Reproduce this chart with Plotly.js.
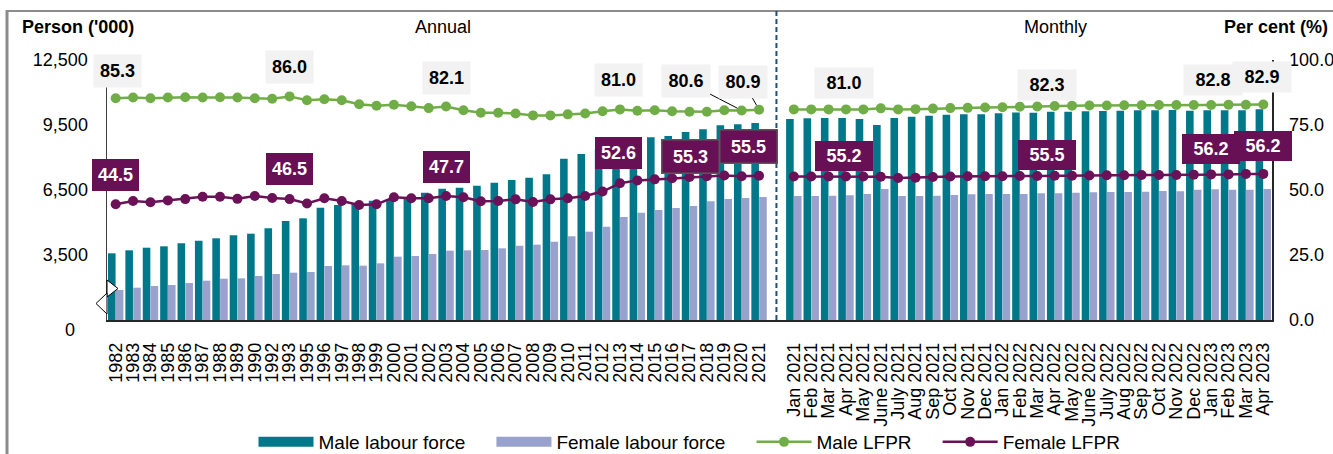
<!DOCTYPE html>
<html><head><meta charset="utf-8">
<script src="https://cdn.plot.ly/plotly-3.0.1.min.js"></script>
<style>html,body{margin:0;padding:0;background:#fff}#chart{width:1333px;height:454px}</style>
</head><body><div id="chart"></div>
<script>
// ---- Data ----
const annualYears = ["1982","1983","1984","1985","1986","1987","1988","1989","1990","1992","1993",
  "1995","1996","1997","1998","1999","2000","2001","2002","2003","2004","2005","2006","2007","2008",
  "2009","2010","2011","2012","2013","2014","2015","2016","2017","2018","2019","2020","2021"];
const annualMaleLF = [3578,3716,3837,3901,4040,4160,4270,4409,4483,4732,5069,
  5193,5683,5807,5900,6000,6050,6150,6375,6560,6606,6698,6837,6961,7068,
  7222,7944,8161,8392,8600,8790,8931,8992,9177,9300,9485,9531,9592];
const annualFemaleLF = [1885,1992,2069,2115,2208,2315,2407,2422,2531,2623,2684,
  2715,2992,3023,3008,3115,3423,3454,3546,3700,3715,3731,3808,3931,3977,
  4115,4362,4577,4808,5254,5454,5577,5669,5761,5977,6084,6131,6177];
const annualMaleLFPR = [85.3,85.6,85.3,85.6,85.7,85.6,85.7,85.6,85.3,85.1,86.0,
  84.5,84.9,84.5,83.0,82.4,82.8,82.2,81.5,82.1,80.7,79.7,79.7,79.4,78.7,
  78.7,79.1,79.4,80.3,81.0,80.5,80.7,80.3,80.1,80.1,80.7,80.6,80.9];
const annualFemaleLFPR = [44.5,45.8,45.3,46.0,46.5,47.4,47.4,46.6,47.7,46.9,46.5,
  44.8,46.8,45.8,44.2,44.5,47.2,46.8,46.8,47.7,47.2,45.7,45.8,46.4,45.4,
  46.4,46.8,47.7,49.4,52.6,53.7,54.1,54.5,55.0,55.3,55.6,55.3,55.5];

const months = ["Jan 2021","Feb 2021","Mar 2021","Apr 2021","May 2021","June 2021","July 2021","Aug 2021",
  "Sep 2021","Oct 2021","Nov 2021","Dec 2021","Jan 2022","Feb 2022","Mar 2022","Apr 2022","May 2022",
  "June 2022","July 2022","Aug 2022","Sep 2022","Oct 2022","Nov 2022","Dec 2022","Jan 2023","Feb 2023",
  "Mar 2023","Apr 2023"];
const monthlyMaleLF = [9777,9808,9823,9823,9777,9500,9823,9884,9930,9977,9992,9992,10038,10080,
  10069,10115,10115,10131,10146,10162,10177,10177,10192,10162,10177,10177,10177,10223];
const monthlyFemaleLF = [6223,6223,6238,6254,6315,6546,6223,6223,6238,6269,6300,6315,6315,6315,
  6346,6346,6377,6392,6408,6408,6423,6454,6438,6515,6531,6515,6515,6546];
const monthlyMaleLFPR = [81.0,81.0,81.0,81.0,81.0,81.4,81.0,81.1,81.3,81.5,81.6,81.7,81.8,82.0,
  82.1,82.3,82.4,82.5,82.5,82.6,82.6,82.7,82.7,82.7,82.7,82.8,82.8,82.9];
const monthlyFemaleLFPR = [55.2,55.2,55.2,55.2,55.2,55.1,54.6,54.7,55.0,55.2,55.3,55.3,55.3,55.4,
  55.4,55.5,55.5,55.6,55.7,55.7,55.8,55.8,55.8,55.9,56.0,56.0,56.2,56.2];

const leftTicks = [3500,6500,9500,12500];
const rightTicks = [0,25,50,75,100];

// labelled points: [category, dx, dy, style]
const maleLabels = [["1982",2,27,"a"],["1993",0,29,"a"],["2003",0,29,"a"],["2013",-1,29,"a"],
  ["Apr 2021",-2,26,"m"],["Apr 2022",-8,21,"m"],["Mar 2023",-33,25,"m"],["Apr 2023",-1,27,"m"]];
const maleArrowLabels = [["2020",-56,-29],["2021",-16,-28]];
const femaleLabels = [["1982",0,29,"a"],["1993",0,30,"a"],["2003",0,29,"a"],["2013",-1,30,"a"],
  ["2020",-51,20,"b"],["2021",-11,29,"b"],
  ["Apr 2021",-2,20,"m"],["Apr 2022",-8,21,"m"],["Mar 2023",-35,25,"m"],["Apr 2023",0,28,"m"]];

// ---- Build ----
const GAP = " ";
const cats = annualYears.concat([GAP], months);
const maleLF = annualMaleLF.concat([null], monthlyMaleLF);
const femaleLF = annualFemaleLF.concat([null], monthlyFemaleLF);
const maleLFPR = annualMaleLFPR.concat([null], monthlyMaleLFPR);
const femaleLFPR = annualFemaleLFPR.concat([null], monthlyFemaleLFPR);

const TEAL = "#00788A", LAV = "#98A2CC", GREEN = "#70AD47", PURPLE = "#6A1158";
const FONT = "Liberation Sans, Arial, sans-serif";
const SP = "\u00a0\u00a0\u00a0\u00a0";

const traces = [
  {type:"scatter", mode:"lines", x:[null], y:[null], name:"Male labour force"+SP, line:{color:TEAL, width:10}, hoverinfo:"skip"},
  {type:"scatter", mode:"lines", x:[null], y:[null], name:"Female labour force"+SP, line:{color:LAV, width:10}, hoverinfo:"skip"},
  {type:"bar", x:cats, y:maleLF, name:"Male labour force", marker:{color:TEAL}, showlegend:false, hoverinfo:"skip"},
  {type:"bar", x:cats, y:femaleLF, name:"Female labour force", marker:{color:LAV}, showlegend:false, hoverinfo:"skip"},
  {type:"scatter", mode:"lines+markers", x:cats, y:maleLFPR, yaxis:"y2", name:"Male LFPR"+SP,
    line:{color:GREEN, width:2.5}, marker:{color:GREEN, size:10}, connectgaps:false, hoverinfo:"skip"},
  {type:"scatter", mode:"lines+markers", x:cats, y:femaleLFPR, yaxis:"y2", name:"Female LFPR",
    line:{color:PURPLE, width:2.5}, marker:{color:PURPLE, size:10}, connectgaps:false, hoverinfo:"skip"}
];

const idx = c => cats.indexOf(c);
const valOf = (arr, c) => arr[idx(c)];

const annotations = [];
maleLabels.forEach(([c,dx,dy,s]) => {
  const m = s === "m";
  annotations.push({x:idx(c), y:valOf(maleLFPR,c), xref:"x", yref:"y2", text:"<b>"+valOf(maleLFPR,c).toFixed(1)+"</b>",
    showarrow:false, xshift:dx, yshift:dy, bgcolor:"#F2F2F2", width:m?52:41, height:m?24:26, borderpad:3,
    font:{family:FONT, size:18, color:"#000"}});
});
maleArrowLabels.forEach(([c,ax,ay]) => {
  annotations.push({x:idx(c), y:valOf(maleLFPR,c), xref:"x", yref:"y2", text:"<b>"+valOf(maleLFPR,c).toFixed(1)+"</b>",
    showarrow:true, ax:ax, ay:ay, arrowhead:0, arrowwidth:1, arrowcolor:"#000", standoff:5,
    bgcolor:"#F2F2F2", width:42, height:26, borderpad:3, font:{family:FONT, size:18, color:"#000"}});
});
femaleLabels.forEach(([c,dx,dy,s]) => {
  const m = s === "m", b = s === "b";
  annotations.push({x:idx(c), y:valOf(femaleLFPR,c), xref:"x", yref:"y2", text:"<b>"+valOf(femaleLFPR,c).toFixed(1)+"</b>",
    showarrow:false, xshift:dx, yshift:dy, bgcolor:"#681056", width:m?52:(b?50:41), height:m?24:26, borderpad:3,
    bordercolor: b ? "#595959" : "rgba(0,0,0,0)", borderwidth: b ? 1.5 : 0,
    font:{family:FONT, size:18, color:"#fff"}});
});
// axis / section titles
const px = v => (v - 107) / 1165, py = v => (320 - v) / 260;
annotations.push(
  {xref:"paper", yref:"paper", x:px(20), y:py(27), xanchor:"left", yanchor:"middle", showarrow:false,
    text:"<b>Person ('000)</b>", font:{family:FONT, size:18, color:"#000"}},
  {xref:"paper", yref:"paper", x:px(443), y:py(27), xanchor:"center", yanchor:"middle", showarrow:false,
    text:"Annual", font:{family:FONT, size:18, color:"#000"}},
  {xref:"paper", yref:"paper", x:px(1055), y:py(27), xanchor:"center", yanchor:"middle", showarrow:false,
    text:"Monthly", font:{family:FONT, size:18, color:"#000"}},
  {xref:"paper", yref:"paper", x:px(1330), y:py(27), xanchor:"right", yanchor:"middle", showarrow:false,
    text:"<b>Per cent (%)</b>", font:{family:FONT, size:18, color:"#000"}},
  {xref:"paper", yref:"paper", x:px(70), y:py(330), xanchor:"center", yanchor:"middle", showarrow:false,
    text:"0", font:{family:FONT, size:18, color:"#000"}}
);

const shapes = [
  {type:"line", xref:"paper", yref:"paper", x0:px(7), x1:px(1334), y0:py(11), y1:py(11), line:{color:"#8C8C8C", width:2}},
  {type:"line", xref:"paper", yref:"paper", x0:px(7), x1:px(7), y0:py(10), y1:py(456), line:{color:"#8C8C8C", width:3}},
  {type:"line", xref:"x", yref:"paper", x0:annualYears.length, x1:annualYears.length, y0:0, y1:py(11),
    line:{color:"#1F4E79", width:2, dash:"5px,3px"}},
  {type:"path", xref:"paper", yref:"paper", layer:"above",
    path:`M0,${py(280)} L${px(118)},${py(288.5)} L0,${py(297)} Z`, fillcolor:"#fff", line:{color:"#000", width:1}},
  {type:"path", xref:"paper", yref:"paper", layer:"above",
    path:`M0,${py(293)} L${px(96)},${py(303.5)} L0,${py(314)} Z`, fillcolor:"#fff", line:{color:"#000", width:1}}
];

const layout = {
  width:1333, height:454,
  margin:{l:107, r:61, t:60, b:134, pad:0, autoexpand:false},
  paper_bgcolor:"#fff", plot_bgcolor:"#fff",
  font:{family:FONT, size:17, color:"#000"},
  barmode:"group", bargap:0.1, bargroupgap:0.03,
  showlegend:true,
  legend:{orientation:"h", x:0.5, xanchor:"center", xref:"paper", yref:"container", y:(454-442)/454, yanchor:"middle",
    font:{family:FONT, size:19, color:"#000"}, itemwidth:55, traceorder:"normal", bgcolor:"rgba(0,0,0,0)"},
  xaxis:{type:"category", categoryorder:"array", categoryarray:cats, range:[-0.5, cats.length-0.5],
    tickvals:cats.filter(c => c !== GAP), tickangle:-90, tickfont:{family:FONT, size:18, color:"#000"},
    showline:true, linecolor:"#262626", linewidth:1.5, ticks:"outside", ticklen:14, tickcolor:"rgba(0,0,0,0)",
    showgrid:false, zeroline:false, fixedrange:true, automargin:false},
  yaxis:{range:[500,12500], tickvals:leftTicks, tickformat:",", showline:true, linecolor:"#404040", linewidth:1.5,
    showgrid:false, zeroline:false, ticks:"outside", ticklen:14, tickcolor:"rgba(0,0,0,0)",
    tickfont:{family:FONT, size:18, color:"#000"}, fixedrange:true, automargin:false},
  yaxis2:{overlaying:"y", side:"right", range:[0,100], tickvals:rightTicks, tickformat:".1f", showline:true,
    linecolor:"#262626", linewidth:1.5, showgrid:false, zeroline:false, ticks:"outside", ticklen:12,
    tickcolor:"rgba(0,0,0,0)", tickfont:{family:FONT, size:18, color:"#000"}, fixedrange:true, automargin:false},
  annotations:annotations,
  shapes:shapes,
  hovermode:false
};

Plotly.newPlot("chart", traces, layout, {displayModeBar:false, staticPlot:true});
</script>
</body></html>
